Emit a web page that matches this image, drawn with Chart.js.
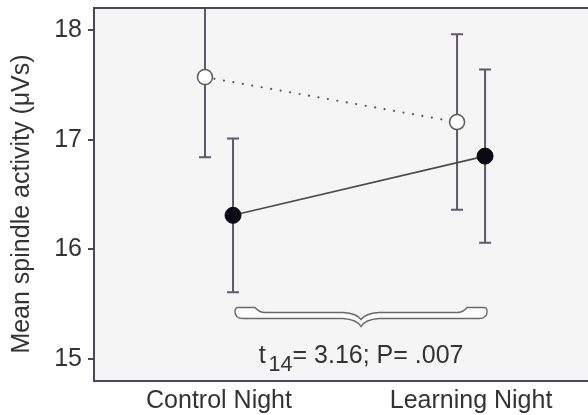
<!DOCTYPE html>
<html>
<head>
<meta charset="utf-8">
<script src="https://cdn.jsdelivr.net/npm/chart.js@4/dist/chart.umd.min.js"></script>
<style>
  html, body { margin: 0; padding: 0; background: #ffffff; overflow: hidden; }
  #wrap { width: 588px; height: 415px; position: relative; }
</style>
</head>
<body>
<div id="wrap"><canvas id="chart"></canvas></div>
<script>
// Nights compared
const categories = ['Control Night', 'Learning Night'];

// Mean spindle activity (µVs) with error-bar half-widths
const hollowMeans = [17.57, 17.16];
const hollowErr   = [0.73, 0.80];
const solidMeans  = [16.31, 16.85];
const solidErr    = [0.70, 0.79];

// Y axis ticks
const yTicks = [15, 16, 17, 18];

// Paired comparison statistic shown under the brace
const statT = 't';
const statDf = '14';
const statRest = '= 3.16; P= .007';

const yTitle = 'Mean spindle activity (\u03bcVs)';

const FONT = '"Liberation Sans", Arial, Helvetica, sans-serif';
const AXIS_COLOR = '#4b4559';
const BAR_COLOR = '#5f586e';
const TEXT_COLOR = '#333333';
const DODGE = 0.0556;

const toPoints = (vals, shift) => vals.map((v, i) => ({ x: i + 1 + shift, y: v }));

const decor = {
  id: 'decor',
  beforeDraw(chart) {
    const { ctx, chartArea: a } = chart;
    ctx.save();
    ctx.fillStyle = '#f5f5f5';
    ctx.fillRect(a.left, a.top, a.right - a.left, a.bottom - a.top);
    ctx.restore();
  },
  beforeDatasetsDraw(chart) {
    const { ctx, chartArea: a, scales: { x, y } } = chart;
    ctx.save();
    ctx.beginPath();
    ctx.rect(a.left, a.top, a.right - a.left, a.bottom - a.top);
    ctx.clip();
    ctx.strokeStyle = BAR_COLOR;
    ctx.lineWidth = 2;
    const groups = [[hollowMeans, hollowErr, -DODGE], [solidMeans, solidErr, DODGE]];
    groups.forEach(([means, errs, shift]) => {
      means.forEach((m, i) => {
        const px = x.getPixelForValue(i + 1 + shift);
        const top = y.getPixelForValue(m + errs[i]);
        const bot = y.getPixelForValue(m - errs[i]);
        ctx.beginPath();
        ctx.moveTo(px, top); ctx.lineTo(px, bot);
        ctx.moveTo(px - 6, top); ctx.lineTo(px + 6, top);
        ctx.moveTo(px - 6, bot); ctx.lineTo(px + 6, bot);
        ctx.stroke();
      });
    });
    ctx.restore();
  },
  afterDatasetsDraw(chart) {
    const { ctx, chartArea: a, scales: { x, y } } = chart;
    ctx.save();

    // top frame line
    ctx.strokeStyle = AXIS_COLOR;
    ctx.lineWidth = 2;
    ctx.beginPath();
    ctx.moveTo(a.left, a.top);
    ctx.lineTo(a.right, a.top);
    ctx.stroke();

    // curly brace spanning the two nights
    const L = x.getPixelForValue(1 + DODGE) + 2;
    const R = x.getPixelForValue(2 + DODGE) + 2;
    const M = (L + R) / 2;
    const y0 = y.getPixelForValue(15.47);
    ctx.beginPath();
    ctx.moveTo(L + 3, y0);
    ctx.lineTo(L + 20, y0);
    ctx.quadraticCurveTo(L + 24, y0 + 5, L + 30, y0 + 5);
    ctx.lineTo(M - 18, y0 + 5);
    ctx.quadraticCurveTo(M - 4, y0 + 6, M, y0 + 12);
    ctx.quadraticCurveTo(M + 4, y0 + 6, M + 18, y0 + 5);
    ctx.lineTo(R - 30, y0 + 5);
    ctx.quadraticCurveTo(R - 24, y0 + 5, R - 20, y0);
    ctx.lineTo(R - 3, y0);
    ctx.quadraticCurveTo(R, y0, R, y0 + 4);
    ctx.quadraticCurveTo(R, y0 + 11, R - 8, y0 + 11);
    ctx.lineTo(M + 18, y0 + 11);
    ctx.quadraticCurveTo(M + 4, y0 + 12, M, y0 + 19);
    ctx.quadraticCurveTo(M - 4, y0 + 12, M - 18, y0 + 11);
    ctx.lineTo(L + 8, y0 + 11);
    ctx.quadraticCurveTo(L, y0 + 11, L, y0 + 4);
    ctx.quadraticCurveTo(L, y0, L + 3, y0);
    ctx.closePath();
    ctx.fillStyle = '#fcfcfc';
    ctx.fill();
    ctx.strokeStyle = '#6a6a6a';
    ctx.lineWidth = 1.4;
    ctx.stroke();

    // statistic label: t with subscript df
    ctx.fillStyle = TEXT_COLOR;
    ctx.textBaseline = 'alphabetic';
    ctx.textAlign = 'left';
    const mainFont = '25px ' + FONT;
    const subFont = '21.5px ' + FONT;
    ctx.font = mainFont;
    const wT = ctx.measureText(statT).width;
    const wRest = ctx.measureText(statRest).width;
    ctx.font = subFont;
    const wSub = ctx.measureText(statDf).width;
    const gap = 3;
    const total = wT + gap + wSub + wRest;
    const base = y.getPixelForValue(15.0) + 4;
    let tx = M - total / 2;
    ctx.font = mainFont;
    ctx.fillText(statT, tx, base);
    tx += wT + gap;
    ctx.font = subFont;
    ctx.fillText(statDf, tx, base + 8);
    tx += wSub;
    ctx.font = mainFont;
    ctx.fillText(statRest, tx, base);

    // y axis title
    ctx.translate(22, 204);
    ctx.rotate(-Math.PI / 2);
    ctx.textAlign = 'center';
    ctx.textBaseline = 'middle';
    ctx.font = '25px ' + FONT;
    ctx.fillStyle = TEXT_COLOR;
    ctx.fillText(yTitle, 0, 0);
    ctx.restore();
  }
};

new Chart(document.getElementById('chart'), {
  type: 'scatter',
  data: {
    datasets: [
      {
        label: 'hollow',
        data: toPoints(hollowMeans, -DODGE),
        showLine: true,
        borderColor: '#555555',
        borderWidth: 2.2,
        borderDash: [0, 9.6],
        borderCapStyle: 'round',
        pointRadius: 7.5,
        pointBackgroundColor: '#ffffff',
        pointBorderColor: '#5a5a5a',
        pointBorderWidth: 1.5
      },
      {
        label: 'solid',
        data: toPoints(solidMeans, DODGE),
        showLine: true,
        borderColor: '#4a4a4a',
        borderWidth: 1.6,
        pointRadius: 8,
        pointBackgroundColor: '#0b0a14',
        pointBorderColor: '#0b0a14',
        pointBorderWidth: 1
      }
    ]
  },
  options: {
    responsive: true,
    maintainAspectRatio: false,
    animation: false,
    events: [],
    layout: { autoPadding: false, padding: { top: 8, right: 0, left: 0, bottom: 0 } },
    plugins: { legend: { display: false }, tooltip: { enabled: false } },
    scales: {
      x: {
        type: 'linear',
        min: 0.504,
        max: 2.464,
        afterBuildTicks: (axis) => { axis.ticks = categories.map((c, i) => ({ value: i + 1 })); },
        afterFit: (axis) => { axis.height = 34; axis.paddingLeft = 0; axis.paddingRight = 0; },
        ticks: {
          autoSkip: false,
          maxRotation: 0,
          padding: 5,
          color: TEXT_COLOR,
          font: { family: FONT, size: 25 },
          callback: (v) => categories[Math.round(v) - 1]
        },
        grid: { display: false, drawTicks: false },
        border: { display: true, color: AXIS_COLOR, width: 2 }
      },
      y: {
        min: 14.8,
        max: 18.2,
        afterBuildTicks: (axis) => { axis.ticks = yTicks.map(v => ({ value: v })); },
        afterFit: (axis) => { axis.width = 94; axis.paddingTop = 0; axis.paddingBottom = 0; },
        ticks: {
          padding: 6,
          color: TEXT_COLOR,
          font: { family: FONT, size: 25 }
        },
        grid: { drawOnChartArea: false, drawTicks: true, tickLength: 6, color: AXIS_COLOR, lineWidth: 2 },
        border: { display: true, color: AXIS_COLOR, width: 2 }
      }
    }
  },
  plugins: [decor]
});
</script>
</body>
</html>
